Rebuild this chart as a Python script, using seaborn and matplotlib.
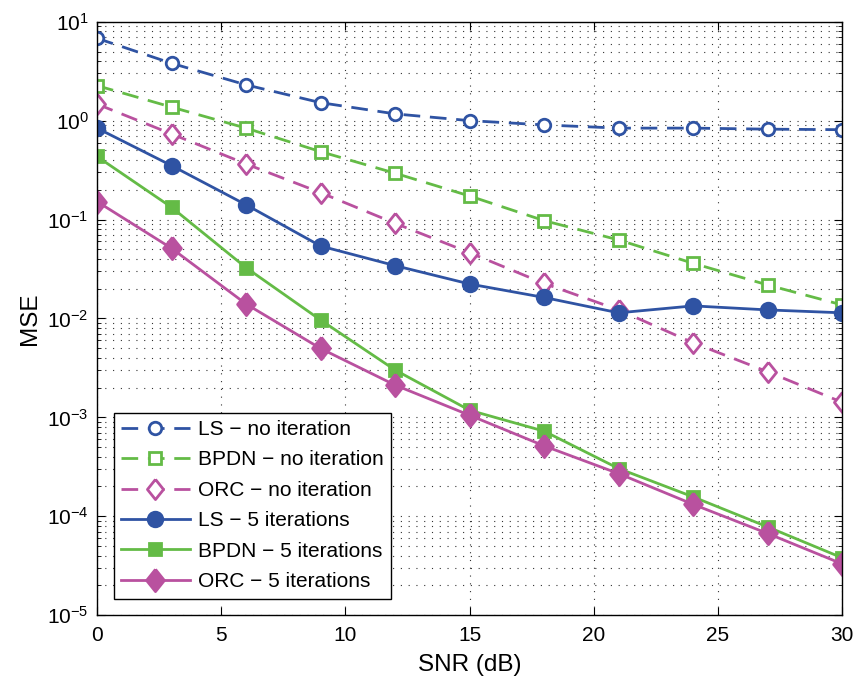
import numpy as np
import pandas as pd
import matplotlib
matplotlib.use('Agg')
import matplotlib.pyplot as plt
import seaborn as sns
from matplotlib.ticker import LogLocator, NullFormatter

snr = [0, 3, 6, 9, 12, 15, 18, 21, 24, 27, 30]

# MSE values
ls_noiter = [6.8, 3.8, 2.3, 1.52, 1.17, 1.0, 0.905, 0.84, 0.84, 0.82, 0.81]
bpdn_noiter = [2.26, 1.37, 0.84, 0.486, 0.294, 0.173, 0.0975, 0.0622, 0.0361, 0.0218, 0.0137]
orc_noiter = [1.47, 0.734, 0.365, 0.187, 0.0916, 0.0462, 0.0226, 0.0122, 0.00567, 0.00289, 0.00142]
ls_5iter = [0.84, 0.351, 0.141, 0.054, 0.0342, 0.0223, 0.0163, 0.0114, 0.0134, 0.0122, 0.0114]
bpdn_5iter = [0.434, 0.133, 0.0326, 0.00964, 0.00301, 0.00118, 0.000725, 0.000304, 0.000157, 7.8e-5, 3.8e-5]
orc_5iter = [0.152, 0.0512, 0.014, 0.00497, 0.00212, 0.00105, 0.000515, 0.00027, 0.000132, 6.7e-5, 3.3e-5]

labels = ['LS \u2212 no iteration', 'BPDN \u2212 no iteration', 'ORC \u2212 no iteration',
          'LS \u2212 5 iterations', 'BPDN \u2212 5 iterations', 'ORC \u2212 5 iterations']

blue = '#2f53a3'
green = '#64bb46'
magenta = '#b9519f'

plt.rcParams['font.family'] = ['Liberation Sans', 'DejaVu Sans']

# MATLAB-like diamond: a bit taller than wide
diamond = [(0, 1), (0.8, 0), (0, -1), (-0.8, 0), (0, 1)]

fig, ax = plt.subplots(figsize=(8.55, 6.79), dpi=100)
fig.subplots_adjust(left=0.1135, right=0.985, bottom=0.094, top=0.968)

dash = (0, (6, 3.5))
styles = [
    (ls_noiter, blue, 'o', False, dash, 9),
    (bpdn_noiter, green, 's', False, dash, 8.5),
    (orc_noiter, magenta, diamond, False, dash, 14.5),
    (ls_5iter, blue, 'o', True, '-', 10.5),
    (bpdn_5iter, green, 's', True, '-', 9),
    (orc_5iter, magenta, diamond, True, '-', 16),
]

for lab, (vals, col, mk, filled, lstyle, ms) in zip(labels, styles):
    sns.lineplot(x=snr, y=vals, ax=ax, color=col, marker=mk, markersize=ms,
                 markerfacecolor=col if filled else 'white', markeredgecolor=col,
                 markeredgewidth=2, linestyle=lstyle, linewidth=2, label=lab)

ax.set_yscale('log')
ax.set_xlim(0, 30)
ax.set_ylim(1e-5, 1e1)
ax.set_xticks(range(0, 31, 5))
ax.yaxis.set_minor_locator(LogLocator(base=10, subs=np.arange(2, 10), numticks=20))
ax.yaxis.set_minor_formatter(NullFormatter())
ax.xaxis.get_offset_text().set_visible(False)
ax.yaxis.get_offset_text().set_visible(False)

grid_style = dict(linestyle=(0, (1, 6)), color='#333333', linewidth=0.8)
ax.grid(True, which='both', axis='y', **grid_style)
ax.grid(True, which='major', axis='x', **grid_style)
ax.set_axisbelow(True)

ax.tick_params(which='both', direction='in', top=True, right=True, colors='black')
ax.tick_params(which='major', length=6, width=0.8, labelsize=15)
ax.tick_params(axis='x', which='major', pad=8)
ax.tick_params(axis='y', which='major', pad=6)
ax.tick_params(which='minor', length=3, width=0.6)
for sp in ax.spines.values():
    sp.set_color('black')
    sp.set_linewidth(1.0)

ax.set_xlabel('SNR (dB)', fontsize=17.5, labelpad=6)
ax.set_ylabel('MSE', fontsize=17.5, labelpad=4)

leg = ax.legend(loc='lower left', fontsize=15, frameon=True, fancybox=False,
                framealpha=1, edgecolor='black', handlelength=3.3,
                handletextpad=0.4, labelspacing=0.55, borderpad=0.35,
                borderaxespad=0.8)
leg.get_frame().set_linewidth(1.0)

fig.savefig('out.png', dpi=100)
